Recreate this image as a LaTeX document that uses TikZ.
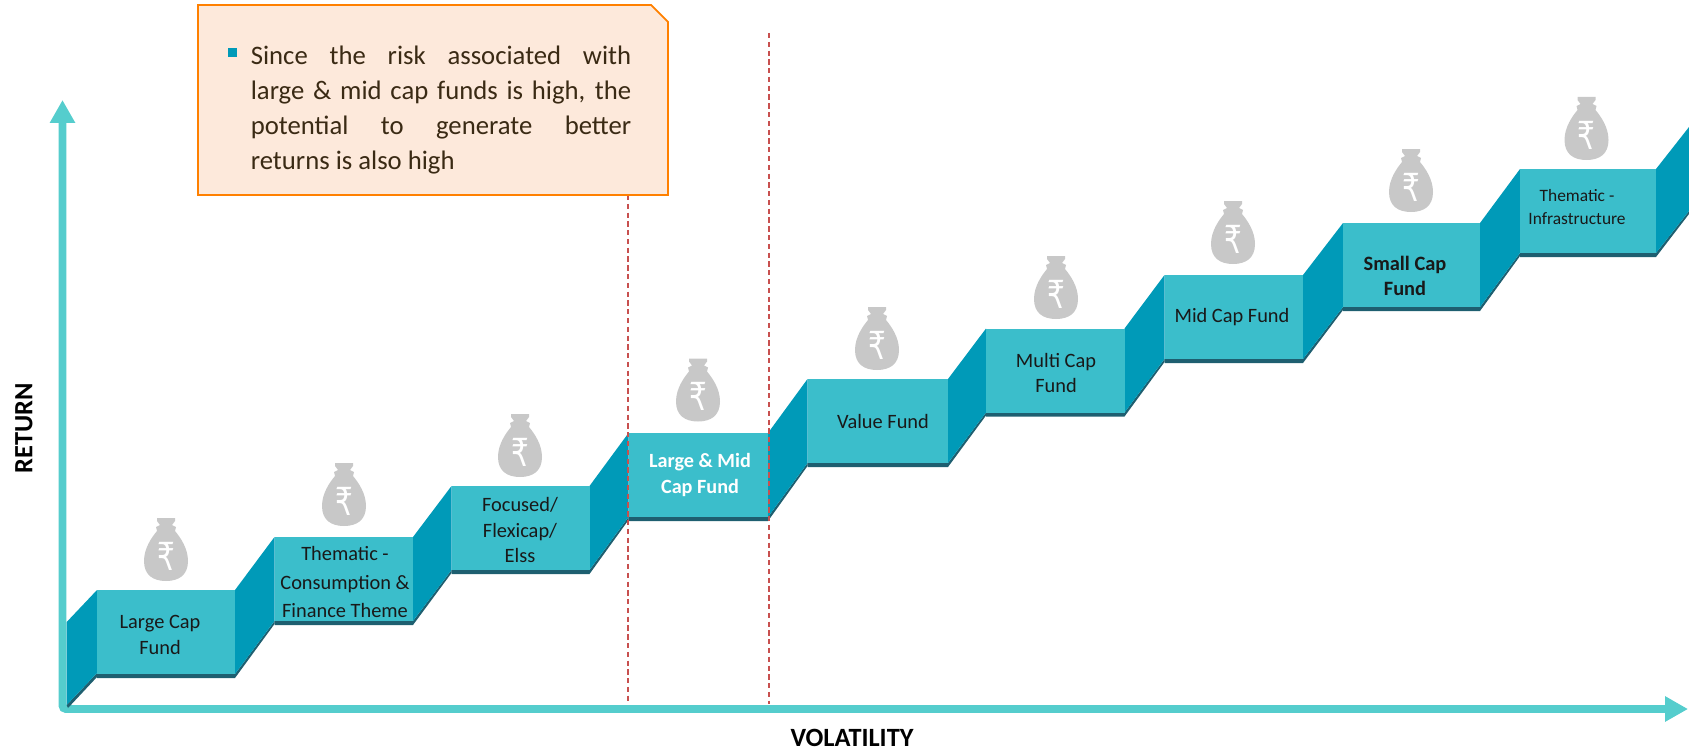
\documentclass[tikz,border=0pt]{standalone}
\usepackage{fontspec}
\setmainfont{Carlito}
\newfontfamily\rupeefont{DejaVu Sans}
\usetikzlibrary{arrows.meta}

\definecolor{axiscol}{HTML}{55CDCD}
\definecolor{wallcol}{HTML}{009AB8}
\definecolor{frontcol}{HTML}{3BBECB}
\definecolor{shadecol}{HTML}{1E5F70}
\definecolor{bagcol}{HTML}{C8C8C8}
\definecolor{notecol}{HTML}{FDE9DB}
\definecolor{noteline}{HTML}{FF8000}
\definecolor{dashcol}{HTML}{C8504F}
\definecolor{inkcol}{HTML}{3A2A14}

\tikzset{
  axisline/.style={axiscol, line width=4.5pt, rounded corners=2pt,
    {Triangle[length=13pt,width=13.6pt]}-{Triangle[length=13pt,width=13.6pt]}},
  bandline/.style={dashcol, line width=1.1pt, dash pattern=on 3pt off 2pt},
  fundlabel/.style={align=center, text=black!90, inner sep=0pt,
    font=\fontsize{11.6}{14.6}\selectfont},
  axislabel/.style={text=black, inner sep=0pt, font=\fontsize{15}{18}\selectfont\bfseries},
}

% #1 left, #2 right, #3 top, #4 next left, #5 next top
\newcommand{\fundstep}[5]{%
  \fill[shadecol] (#1,#3+84) -- (#2,#3+84) -- (#4,#5+84) -- (#4,#5+87) -- (#2,#3+88) -- (#1,#3+88) -- cycle;
  \fill[wallcol] (#2,#3) -- (#4,#5) -- (#4,#5+84) -- (#2,#3+84) -- cycle;
  \fill[frontcol] (#1,#3) rectangle (#2,#3+84);
}
% #1 centre, #2 top of the neck
\newcommand{\moneybag}[2]{%
  \begin{scope}[shift={(#1,#2)}]
    \fill[bagcol] (-9,0) -- (9,0) -- (9,3) -- (6,7) -- (10,9) -- (9,13)
      .. controls (14,19) and (22,30) .. (22,43)
      .. controls (22,57) and (13,63) .. (0,63)
      .. controls (-13,63) and (-22,57) .. (-22,43)
      .. controls (-22,30) and (-14,19) .. (-9,13) -- (-10,9) -- (-6,7) -- (-9,3) -- cycle;
    \node[white, inner sep=0pt, xscale=.72, font=\fontsize{22}{22}\rupeefont] at (0,38) {₹};
  \end{scope}
}

\begin{document}
\begin{tikzpicture}[x=0.02cm, y=-0.02cm]
    \useasboundingbox (0,0) rectangle (1689,750);
    \coordinate (origin) at (62.5,709);
    \coordinate (xend) at (1688,709);
    \coordinate (yend) at (62.5,100);
    \draw [axisline] (yend) -- (origin) -- (xend);

    % the stairs, lowest first
    \fill[shadecol] (66.7,705) -- (97,673) -- (97,677) -- (68,708) -- cycle;
    \fill[wallcol] (66.7,622) -- (97,590) -- (97,673) -- (66.7,705) -- cycle;
    \fundstep{97}{235}{590}{274.5}{537}
    \fundstep{274.5}{413}{537}{451.5}{486}
    \fundstep{451.5}{589.5}{486}{628.5}{433}
    \fundstep{628.5}{768}{433}{807.5}{379}
    \fundstep{807.5}{948}{379}{986}{328.5}
    \fundstep{986}{1124.5}{328.5}{1164.5}{275}
    \fundstep{1164.5}{1303}{275}{1343}{223}
    \fundstep{1343}{1480}{223}{1520}{169}
    \fundstep{1520}{1656}{169}{1689}{127}

    \moneybag{166}{518}
    \moneybag{344}{463}
    \moneybag{520}{414}
    \moneybag{698}{358.5}
    \moneybag{877}{307}
    \moneybag{1056}{256}
    \moneybag{1233}{201}
    \moneybag{1411}{149}
    \moneybag{1586.5}{97}

    \node[fundlabel] (largecap) at (160,635) {Large Cap\\Fund};
    \node[fundlabel, font=\fontsize{11.6}{16.4}\selectfont] (consumption) at (345,582) {Thematic -\\Consumption \&\\Finance Theme};
    \node[fundlabel] (flexicap) at (520,530) {Focused/\\Flexicap/\\Elss};
    \node[fundlabel, text=white, font=\fontsize{11.5}{14.6}\selectfont\bfseries] (largemid) at (700,475) {Large \& Mid\\Cap Fund};
    \node[fundlabel] (value) at (883,421) {Value Fund};
    \node[fundlabel] (multicap) at (1056,373) {Multi Cap\\Fund};
    \node[fundlabel] (midcap) at (1232,317) {Mid Cap Fund};
    \node[fundlabel, font=\fontsize{11.6}{14.6}\selectfont\bfseries] (smallcap) at (1405,276) {Small Cap\\Fund};
    \node[fundlabel, font=\fontsize{9.9}{13}\selectfont] (infra) at (1577,207) {Thematic -\\Infrastructure};

    \coordinate (bandtopa) at (628,195);
    \coordinate (bandbota) at (628,704);
    \coordinate (bandtopb) at (769,33);
    \coordinate (bandbotb) at (769,704);
    \draw [bandline] (bandtopa) -- (bandbota);
    \draw [bandline] (bandtopb) -- (bandbotb);

    % note on the risk
    \filldraw[fill=notecol, draw=noteline, line width=1pt] (198,5) -- (651,5) -- (668,22) -- (668,195) -- (198,195) -- cycle;
    \fill[wallcol] (228,48) rectangle (237,57);
    \node[anchor=north west, inner sep=0pt, text=inkcol, text width=216.5pt, align=justify,
      font=\fontsize{15.2}{19.9}\selectfont] (risknote) at (250.5,45.5)
      {Since the risk associated with\linebreak large \& mid cap funds is high, the\linebreak potential to generate better\linebreak returns is also high};

    \node[axislabel, rotate=90] (returnlabel) at (24,428) {RETURN};
    \node[axislabel] (vollabel) at (852,738) {VOLATILITY};
\end{tikzpicture}
\end{document}
